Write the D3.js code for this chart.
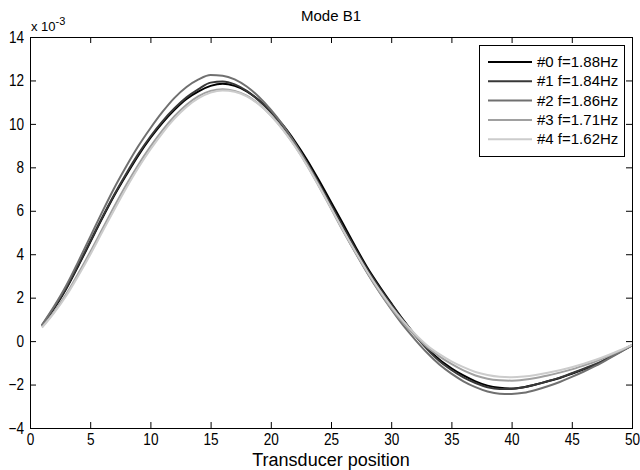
<!DOCTYPE html>
<html><head><meta charset="utf-8">
<script src="https://cdn.jsdelivr.net/npm/d3@7"></script>
<style>
body{margin:0;background:#fff;}
text{font-family:"Liberation Sans",Arial,sans-serif;fill:#000;}
</style></head>
<body><svg id="c" width="640" height="470"></svg>
<script>
const positions = d3.range(1, 51);
const seriesNames = ["#0 f=1.88Hz", "#1 f=1.84Hz", "#2 f=1.86Hz", "#3 f=1.71Hz", "#4 f=1.62Hz"];
const seriesColors = ["#000000", "#383838", "#707070", "#a0a0a0", "#cccccc"];
const mode0 = [0.70,1.50,2.40,3.45,4.55,5.65,6.70,7.65,8.55,9.35,10.05,10.65,11.15,11.50,11.75,11.85,11.75,11.50,11.10,10.55,9.95,9.20,8.35,7.40,6.40,5.40,4.38,3.40,2.55,1.75,0.98,0.28,-0.33,-0.85,-1.25,-1.58,-1.85,-2.05,-2.15,-2.18,-2.12,-2.00,-1.85,-1.70,-1.50,-1.30,-1.10,-0.80,-0.50,-0.20];
const mode1 = [0.72,1.55,2.45,3.50,4.60,5.70,6.75,7.72,8.62,9.42,10.12,10.72,11.22,11.60,11.90,11.95,11.82,11.52,11.08,10.55,9.88,9.10,8.22,7.27,6.27,5.27,4.28,3.32,2.48,1.70,0.95,0.25,-0.38,-0.92,-1.33,-1.67,-1.93,-2.12,-2.20,-2.20,-2.13,-2.00,-1.85,-1.68,-1.48,-1.27,-1.05,-0.78,-0.48,-0.18];
const mode2 = [0.75,1.60,2.55,3.65,4.80,5.95,7.05,8.05,8.98,9.80,10.55,11.20,11.70,12.05,12.25,12.22,12.05,11.72,11.25,10.65,9.95,9.12,8.20,7.20,6.15,5.10,4.10,3.15,2.27,1.47,0.72,0.06,-0.55,-1.08,-1.50,-1.85,-2.12,-2.32,-2.42,-2.43,-2.38,-2.25,-2.08,-1.88,-1.65,-1.40,-1.13,-0.83,-0.52,-0.20];
const mode3 = [0.65,1.35,2.15,3.10,4.10,5.15,6.20,7.20,8.12,8.95,9.70,10.35,10.88,11.28,11.52,11.60,11.52,11.30,10.92,10.40,9.75,8.98,8.10,7.12,6.10,5.07,4.10,3.17,2.30,1.52,0.84,0.24,-0.28,-0.70,-1.05,-1.35,-1.58,-1.73,-1.80,-1.82,-1.78,-1.70,-1.58,-1.45,-1.30,-1.12,-0.93,-0.70,-0.45,-0.18];
const mode4 = [0.62,1.30,2.08,3.00,3.98,5.02,6.05,7.05,7.98,8.82,9.58,10.24,10.78,11.18,11.44,11.54,11.48,11.27,10.90,10.38,9.73,8.97,8.10,7.14,6.13,5.12,4.15,3.22,2.37,1.60,0.92,0.32,-0.20,-0.60,-0.93,-1.20,-1.42,-1.56,-1.64,-1.66,-1.63,-1.56,-1.46,-1.34,-1.20,-1.04,-0.86,-0.65,-0.42,-0.17];
const xTicks = [0,5,10,15,20,25,30,35,40,45,50];
const yTicks = [-4,-2,0,2,4,6,8,10,12,14];
const modes = [mode0, mode1, mode2, mode3, mode4];

const svg = d3.select("#c");
const L=30, R=632, T=37, B=428;
const x = d3.scaleLinear().domain([0,50]).range([L,R]);
const y = d3.scaleLinear().domain([-4,14]).range([B,T]);

// lines
const line = d3.line().x((d,i)=>x(positions[i])).y(d=>y(d)).curve(d3.curveMonotoneX);
svg.append("g").selectAll("path").data(modes).join("path")
  .attr("d", line).attr("fill","none")
  .attr("stroke",(d,i)=>seriesColors[i]).attr("stroke-width",2)
  .attr("stroke-linejoin","round");

// axes
const ax = (g)=>{g.select(".domain").remove(); g.selectAll("line").attr("stroke","#000");
  g.selectAll("text").style("font-size","16px").attr("transform","scale(0.85,1)");};
svg.append("g").attr("transform",`translate(0,${B})`)
  .call(d3.axisBottom(x).tickValues(xTicks).tickSize(-6).tickPadding(6).tickFormat(d3.format("d"))).call(ax);
svg.append("g").attr("transform",`translate(0,${T})`)
  .call(d3.axisTop(x).tickValues(xTicks).tickSize(-6).tickFormat("")).call(ax);
svg.append("g").attr("transform",`translate(${L},0)`)
  .call(d3.axisLeft(y).tickValues(yTicks).tickSize(-6).tickPadding(7).tickFormat(d3.format("d"))).call(ax);
svg.append("g").attr("transform",`translate(${R},0)`)
  .call(d3.axisRight(y).tickValues(yTicks).tickSize(-6).tickFormat("")).call(ax);
svg.append("rect").attr("x",L).attr("y",T).attr("width",R-L).attr("height",B-T)
  .attr("fill","none").attr("stroke","#000").attr("stroke-width",1).attr("shape-rendering","crispEdges");

// labels
svg.append("text").attr("x",(L+R)/2).attr("y",21).attr("text-anchor","middle").style("font-size","15px").text("Mode B1");
svg.append("text").attr("x",(L+R)/2).attr("y",466).attr("text-anchor","middle").style("font-size","18px").text("Transducer position");
const ex = svg.append("text").attr("x",31).attr("y",31).style("font-size","13px");
ex.append("tspan").text("x 10");
ex.append("tspan").attr("dy",-6).style("font-size","11px").text("-3");

// legend
const lg = svg.append("g");
lg.append("rect").attr("x",479.5).attr("y",45.5).attr("width",145).attr("height",111)
  .attr("fill","#fff").attr("stroke","#000").attr("stroke-width",1);
const rows = lg.selectAll("g.r").data(seriesNames).join("g").attr("class","r")
  .attr("transform",(d,i)=>`translate(0,${62+i*19.3})`);
rows.append("line").attr("x1",488).attr("x2",532).attr("y1",0).attr("y2",0)
  .attr("stroke",(d,i)=>seriesColors[i]).attr("stroke-width",2);
rows.append("text").attr("x",537).attr("y",5).style("font-size","15px").text(d=>d);
</script></body></html>
